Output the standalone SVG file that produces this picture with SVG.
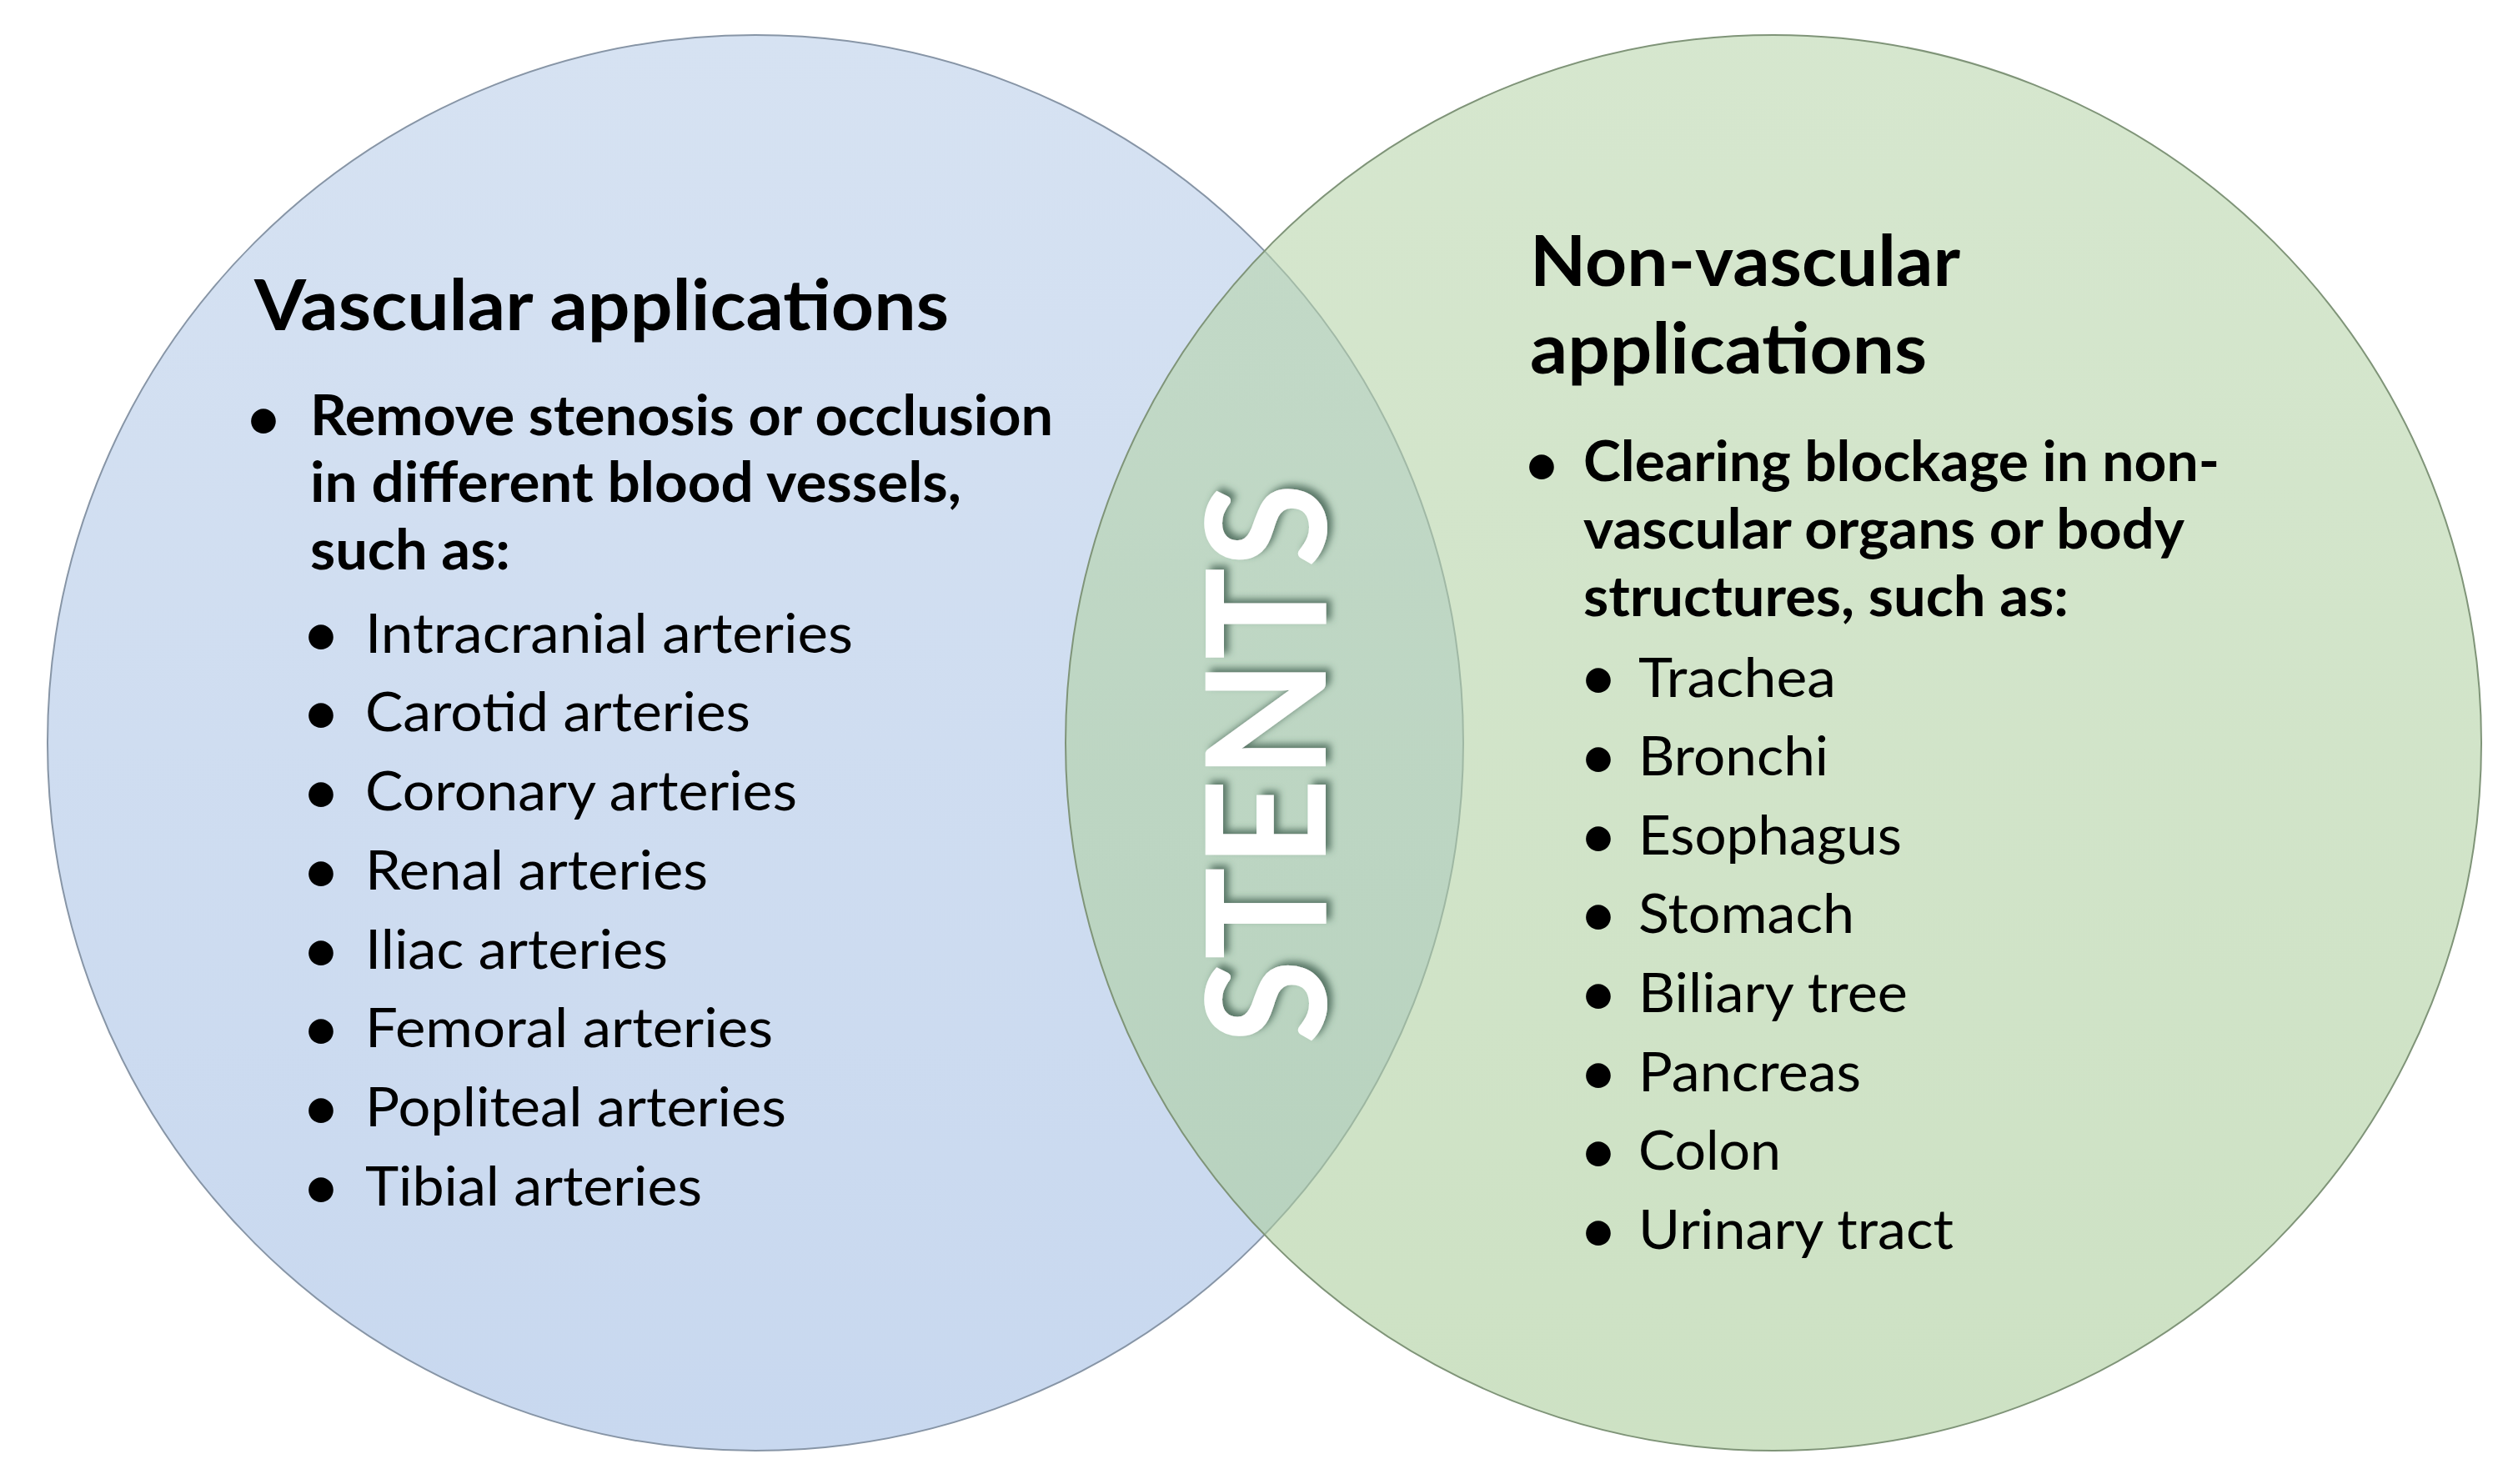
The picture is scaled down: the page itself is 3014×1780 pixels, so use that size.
<svg xmlns="http://www.w3.org/2000/svg" width="3014" height="1780" viewBox="0 0 3014 1780">
<defs>
<style>
.t{font-family:Lato,'Open Sans','Liberation Sans',sans-serif;fill:#000}
.title{font-size:85px;font-weight:700}
.b{font-size:66px;font-weight:700}
.r{font-size:66px;font-weight:400}
.bul{font-family:Lato,'Open Sans','Liberation Sans',sans-serif;font-size:80px;text-anchor:middle;fill:#000}
.stents{font-family:Lato,'Open Sans','Liberation Sans',sans-serif;font-size:200px;font-weight:700;fill:#fff;text-anchor:middle}
</style>
<linearGradient id="gBlue" x1="0" y1="0" x2="0" y2="1">
<stop offset="0" stop-color="#d6e2f2"/>
<stop offset="1" stop-color="#c8d8ef"/>
</linearGradient>
<linearGradient id="gGreen" x1="0" y1="0" x2="0" y2="1">
<stop offset="0" stop-color="#b8d5ab"/>
<stop offset="1" stop-color="#a9cc99"/>
</linearGradient>
<filter id="shadow" x="-20%" y="-20%" width="140%" height="140%">
<feDropShadow dx="5" dy="6" stdDeviation="4" flood-color="#3a5a48" flood-opacity="0.75"/>
</filter>
</defs>
<rect width="3014" height="1780" fill="#fff"/>

<g id="node-vascular">
<circle cx="906" cy="891" r="849" fill="url(#gBlue)" stroke="#8795a6" stroke-width="2"/>
</g>
<g id="node-nonvascular">
<circle cx="2127" cy="891" r="849" fill="url(#gGreen)" fill-opacity="0.58" stroke="#7f9478" stroke-width="2"/>
</g>

<g id="vascular-text">
<text class="t title" x="305" y="396" textLength="833" lengthAdjust="spacingAndGlyphs">Vascular applications</text>
<text class="bul" x="316" y="529">•</text>
<text class="t b" x="372" y="522" textLength="891" lengthAdjust="spacingAndGlyphs">Remove stenosis or occlusion</text>
<text class="t b" x="372" y="602" textLength="781" lengthAdjust="spacingAndGlyphs">in different blood vessels,</text>
<text class="t b" x="372" y="683" textLength="240" lengthAdjust="spacingAndGlyphs">such as:</text>
<g>
<text class="bul" x="385" y="788">•</text>
<text class="t r" x="438" y="783" textLength="585" lengthAdjust="spacingAndGlyphs">Intracranial arteries</text>
<text class="bul" x="385" y="882">•</text>
<text class="t r" x="438" y="877" textLength="462" lengthAdjust="spacingAndGlyphs">Carotid arteries</text>
<text class="bul" x="385" y="977">•</text>
<text class="t r" x="438" y="972" textLength="518" lengthAdjust="spacingAndGlyphs">Coronary arteries</text>
<text class="bul" x="385" y="1072">•</text>
<text class="t r" x="438" y="1067" textLength="411" lengthAdjust="spacingAndGlyphs">Renal arteries</text>
<text class="bul" x="385" y="1167">•</text>
<text class="t r" x="438" y="1162" textLength="363" lengthAdjust="spacingAndGlyphs">Iliac arteries</text>
<text class="bul" x="385" y="1261">•</text>
<text class="t r" x="438" y="1256" textLength="489" lengthAdjust="spacingAndGlyphs">Femoral arteries</text>
<text class="bul" x="385" y="1356">•</text>
<text class="t r" x="438" y="1351" textLength="505" lengthAdjust="spacingAndGlyphs">Popliteal arteries</text>
<text class="bul" x="385" y="1451">•</text>
<text class="t r" x="438" y="1446" textLength="404" lengthAdjust="spacingAndGlyphs">Tibial arteries</text>
</g>
</g>

<g id="nonvascular-text">
<text class="t title" x="1835" y="343" textLength="516" lengthAdjust="spacingAndGlyphs">Non-vascular</text>
<text class="t title" x="1835" y="448" textLength="476" lengthAdjust="spacingAndGlyphs">applications</text>
<text class="bul" x="1849" y="584">•</text>
<text class="t b" x="1899" y="577" textLength="763" lengthAdjust="spacingAndGlyphs">Clearing blockage in non-</text>
<text class="t b" x="1899" y="658" textLength="721" lengthAdjust="spacingAndGlyphs">vascular organs or body</text>
<text class="t b" x="1899" y="739" textLength="582" lengthAdjust="spacingAndGlyphs">structures, such as:</text>
<g>
<text class="bul" x="1917" y="840">•</text>
<text class="t r" x="1965" y="836" textLength="237" lengthAdjust="spacingAndGlyphs">Trachea</text>
<text class="bul" x="1917" y="935">•</text>
<text class="t r" x="1965" y="930" textLength="228" lengthAdjust="spacingAndGlyphs">Bronchi</text>
<text class="bul" x="1917" y="1030">•</text>
<text class="t r" x="1965" y="1025" textLength="316" lengthAdjust="spacingAndGlyphs">Esophagus</text>
<text class="bul" x="1917" y="1124">•</text>
<text class="t r" x="1965" y="1119" textLength="259" lengthAdjust="spacingAndGlyphs">Stomach</text>
<text class="bul" x="1917" y="1219">•</text>
<text class="t r" x="1965" y="1214" textLength="323" lengthAdjust="spacingAndGlyphs">Biliary tree</text>
<text class="bul" x="1917" y="1314">•</text>
<text class="t r" x="1965" y="1309" textLength="267" lengthAdjust="spacingAndGlyphs">Pancreas</text>
<text class="bul" x="1917" y="1408">•</text>
<text class="t r" x="1965" y="1403" textLength="171" lengthAdjust="spacingAndGlyphs">Colon</text>
<text class="bul" x="1917" y="1503">•</text>
<text class="t r" x="1965" y="1498" textLength="378" lengthAdjust="spacingAndGlyphs">Urinary tract</text>
</g>
</g>

<g id="node-stents">
<text class="stents" transform="translate(1590,916) rotate(-90)" x="0" y="0" textLength="673" lengthAdjust="spacingAndGlyphs" filter="url(#shadow)">STENTS</text>
</g>

<g id="connectors"/>
</svg>
